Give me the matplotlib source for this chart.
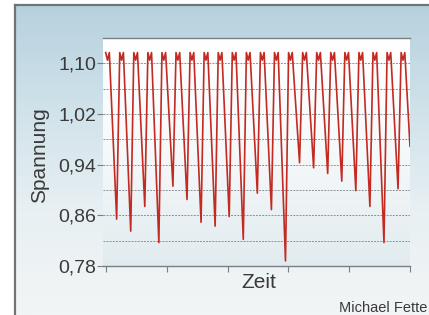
import numpy as np
import matplotlib
matplotlib.use("Agg")
import matplotlib.pyplot as plt
from matplotlib.colors import LinearSegmentedColormap

# ---- data ----
minima = [0.854, 0.835, 0.874, 0.817, 0.906, 0.885, 0.849, 0.843, 0.858, 0.822,
          0.895, 0.869, 0.788, 0.943, 0.935, 0.926, 0.914, 0.899, 0.874, 0.817, 0.902]
crest_peak = 1.117      # the two small peaks of each "M"
crest_dip = 1.105       # the little dip between them
end_value = 0.969       # value where the trace is cut at the right edge
yticks = [0.78, 0.86, 0.94, 1.02, 1.10]
ytick_labels = ["0,78", "0,86", "0,94", "1,02", "1,10"]
ylabel = "Spannung"
xlabel = "Zeit"
credit = "Michael Fette"

# ---- build the trace (time in units of one cycle, minimum i at t = i) ----
t, v = [], []
t += [-0.78, -0.65, -0.52]
v += [crest_peak, crest_dip, crest_peak]
for i, m in enumerate(minima):
    t += [i, i + 0.22, i + 0.35, i + 0.48]
    v += [m, crest_peak, crest_dip, crest_peak]
t.append(20.85)
v.append(end_value)

W, H = 429, 315
fig = plt.figure(figsize=(W / 100, H / 100), dpi=100)
fig.patch.set_facecolor("white")

# background gradient inside the frame
bg = fig.add_axes([0, 0, 1, 1], zorder=-10)
bg.set_axis_off()
cmap_bg = LinearSegmentedColormap.from_list("bg", ["#b6d1de", "#d0e2ea", "#e8f0f3", "#f2f5f6"])
grad = np.linspace(0, 1, 256).reshape(-1, 1)
bg.imshow(grad, cmap=cmap_bg, extent=[15, W, H, 5], aspect="auto")
bg.plot([15, W], [5, 5], color="#6e7478", lw=1.6)
bg.plot([15, 15], [5, H], color="#6e7478", lw=1.6)
bg.set_xlim(0, W)
bg.set_ylim(H, 0)

ax = fig.add_axes([103 / W, 1 - 266 / H, (410 - 103) / W, (266 - 38) / H])
cmap_ax = LinearSegmentedColormap.from_list("ax", ["#ffffff", "#f6f9fa", "#e1ebef"])
ax.imshow(grad, cmap=cmap_ax, extent=[0, 1, 0, 1], aspect="auto",
          transform=ax.transAxes, zorder=0)

ax.plot(t, v, color="#c22a22", lw=1.2, zorder=3)

ax.set_xlim(-0.97, 20.85)
ax.set_ylim(0.78, 1.14)

for g in np.arange(0.82, 1.11, 0.04):
    ax.axhline(g, color="#8c9296", lw=0.7, ls=(0, (2, 1.2)), zorder=1)

ax.set_yticks(yticks)
ax.set_yticklabels(ytick_labels, fontsize=14, color="#3a3a3a", family="Liberation Sans")
ax.set_xticks([-0.76, 3.58, 7.91, 12.18, 16.52, 20.85])
ax.set_xticklabels([])
ax.tick_params(axis="y", length=4, width=0.8, color="#7a7f83", pad=1)
ax.tick_params(axis="x", length=4, width=0.8, color="#7a7f83", direction="out")

for s in ["left", "right"]:
    ax.spines[s].set_visible(False)
ax.spines["bottom"].set_color("#7a7f83")
ax.spines["bottom"].set_linewidth(1.0)
ax.spines["top"].set_color("#7a7f83")
ax.spines["top"].set_linewidth(1.0)

fig.text(40 / W, 1 - 155 / H, ylabel, rotation=90, ha="center", va="center",
         fontsize=15, color="#3a3a3a", family="Liberation Sans")
fig.text(259 / W, 1 - 283 / H, xlabel, ha="center", va="center",
         fontsize=15, color="#3a3a3a", family="Liberation Sans")
fig.text(339 / W, 1 - 308 / H, credit, ha="left", va="center",
         fontsize=10.5, color="#3a3a3a", family="Liberation Sans")

fig.savefig("out.png", dpi=100)
